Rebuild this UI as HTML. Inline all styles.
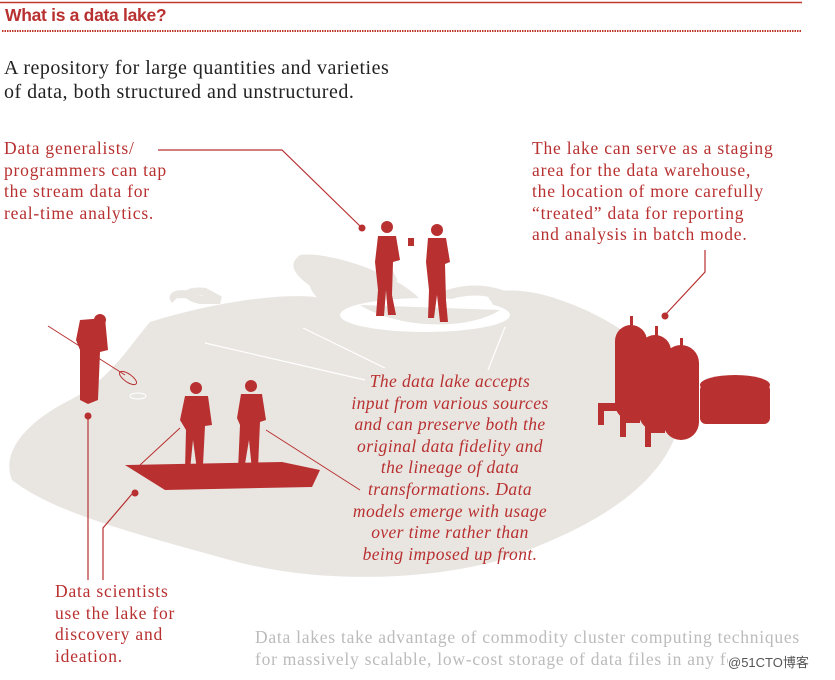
<!DOCTYPE html>
<html><head><meta charset="utf-8"><style>
body{margin:0;width:835px;height:680px;background:#fff;overflow:hidden;position:relative;font-family:"Liberation Serif",serif}
.t{position:absolute;white-space:nowrap}
.r{color:#b83030}
.a{font-size:17.5px;letter-spacing:0.8px;line-height:21.6px}
</style></head><body>
<svg width="835" height="680" style="position:absolute;left:0;top:0">
<line x1="0" y1="2.5" x2="802" y2="2.5" stroke="#c0392b" stroke-width="1.5"/>
<line x1="2" y1="31" x2="802" y2="31" stroke="#c0392b" stroke-width="2" stroke-dasharray="1.5 1"/>
<path d="M150 322 C220 300 300 290 330 300 C310 285 280 270 300 255 C330 250 420 280 430 315 C460 330 510 325 490 300 C480 290 520 285 560 300 C620 320 690 370 680 420 C670 470 620 520 500 560 C430 580 320 585 230 560 C120 530 50 510 12 480 C0 450 30 420 70 400 C110 380 130 345 150 322Z" fill="#e9e6e2"/>
<path d="M200 300 C180 295 190 290 205 292 L220 300Z M175 300 C170 295 180 292 195 296" fill="none" stroke="#e9e6e2" stroke-width="8"/>
<path d="M330 300 C300 280 320 265 350 272 C360 280 380 282 395 275" fill="none" stroke="#e9e6e2" stroke-width="12"/>
<path d="M440 298 C470 285 500 290 520 305 C530 315 510 330 490 335" fill="none" stroke="#e9e6e2" stroke-width="10"/>
<ellipse cx="425" cy="315" rx="85" ry="17" fill="#fff"/>
<path d="M360 305 C400 330 470 330 500 310" fill="#e9e6e2"/>
<g stroke="#b83030" stroke-width="1.2" fill="none">
<polyline points="158,150 282,150 362,228"/>
<polyline points="705,250 705,272 665,315"/>
<line x1="88" y1="416" x2="88" y2="580"/>
<polyline points="132,494 103,528 103,580"/>
</g>
<g fill="#b83030"><circle cx="362" cy="228" r="3.5"/><circle cx="665" cy="316" r="3.5"/><circle cx="88" cy="416" r="3.5"/><circle cx="135" cy="493" r="3.5"/></g>
<g stroke="#fff" stroke-width="1.2" fill="none">
<line x1="205" y1="343" x2="365" y2="380"/><line x1="303" y1="328" x2="385" y2="368"/><line x1="505" y1="327" x2="488" y2="370"/>
</g>
<g fill="#b83030">
<circle cx="387" cy="227" r="6"/><path d="M378 236 L396 236 L400 260 L393 262 L392 295 L396 315 L388 315 L386 290 L384 316 L376 316 L378 290 L375 262 Z"/>
<circle cx="437" cy="230" r="6"/><path d="M428 238 L446 238 L450 262 L445 264 L446 300 L448 322 L440 322 L437 295 L434 318 L428 318 L429 290 L426 262 Z"/>
<rect x="408" y="238" width="6" height="8"/>
<circle cx="100" cy="320" r="6"/><path d="M80 320 L105 318 L108 350 L100 352 L98 400 L88 404 L80 400 L80 350 L76 340 Z"/>
<circle cx="196" cy="388" r="6"/><path d="M185 396 L208 396 L212 425 L205 426 L203 465 L197 470 L193 440 L190 470 L185 470 L186 430 L180 420 Z"/>
<circle cx="251" cy="386" r="6"/><path d="M241 394 L262 394 L266 420 L260 422 L258 468 L252 470 L249 440 L244 470 L238 470 L240 425 L237 418 Z"/>
<path d="M125 465 L282 462 L320 470 L312 487 L165 490 Z"/>
<rect x="615" y="325" width="32" height="95" rx="16"/><rect x="639" y="335" width="32" height="95" rx="16"/><rect x="663" y="345" width="36" height="95" rx="18"/>
<rect x="630" y="316" width="3" height="14"/><rect x="655" y="326" width="3" height="14"/><rect x="680" y="338" width="3" height="14"/>
<rect x="700" y="384" width="70" height="40" rx="6"/><ellipse cx="735" cy="385" rx="35" ry="10"/>
<rect x="598" y="403" width="20" height="8"/><rect x="598" y="403" width="6" height="22"/>
<rect x="620" y="415" width="20" height="8"/><rect x="620" y="415" width="6" height="22"/>
<rect x="645" y="425" width="20" height="8"/><rect x="645" y="425" width="6" height="22"/>
</g>
<g stroke="#b83030" stroke-width="1" fill="none">
<line x1="48" y1="326" x2="125" y2="375"/><ellipse cx="128" cy="378" rx="10" ry="4" transform="rotate(35 128 378)"/>
<line x1="180" y1="428" x2="140" y2="465"/><line x1="266" y1="430" x2="360" y2="490"/>
</g>
<ellipse cx="138" cy="396" rx="8" ry="3" fill="none" stroke="#fff"/>
</svg>
<div class="t r" style="left:5px;top:5px;font-family:'Liberation Sans',sans-serif;font-weight:bold;font-size:17.5px;letter-spacing:-0.3px">What is a data lake?</div>
<div class="t" style="left:4px;top:56px;font-size:20px;letter-spacing:0.5px;line-height:24px;color:#222">A repository for large quantities and varieties<br>of data, both structured and unstructured.</div>
<div class="t r a" style="left:4px;top:138px">Data generalists/<br>programmers can tap<br>the stream data for<br>real-time analytics.</div>
<div class="t r a" style="left:532px;top:138px">The lake can serve as a staging<br>area for the data warehouse,<br>the location of more carefully<br>“treated” data for reporting<br>and analysis in batch mode.</div>
<div class="t r" style="left:330px;top:371px;width:240px;text-align:center;font-style:italic;font-size:17.5px;letter-spacing:0.4px;line-height:21.6px">The data lake accepts<br>input from various sources<br>and can preserve both the<br>original data fidelity and<br>the lineage of data<br>transformations. Data<br>models emerge with usage<br>over time rather than<br>being imposed up front.</div>
<div class="t r a" style="left:55px;top:581px">Data scientists<br>use the lake for<br>discovery and<br>ideation.</div>
<div class="t" style="left:255px;top:626px;font-size:17.5px;letter-spacing:0.75px;line-height:22px;color:#bbb">Data lakes take advantage of commodity cluster computing techniques<br>for massively scalable, low-cost storage of data files in any form.</div>
<div class="t" style="left:728px;top:652px;font-family:'Liberation Sans','Noto Sans CJK SC',sans-serif;font-size:13px;color:#555;background:#fff">@51CTO博客</div>
</body></html>
